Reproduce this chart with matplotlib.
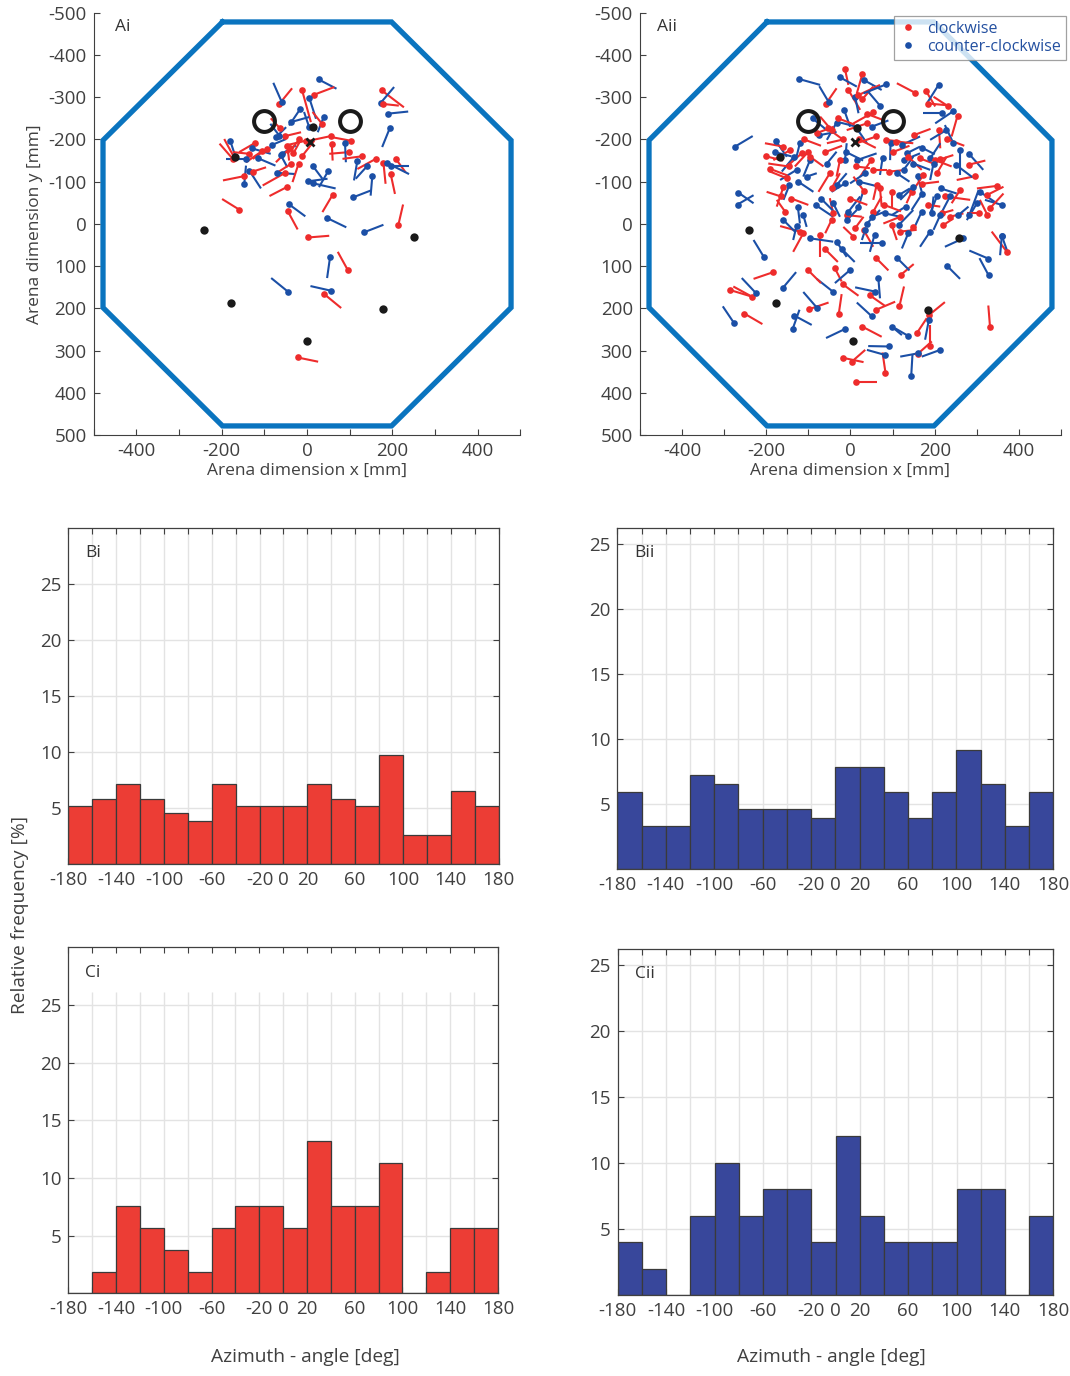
import numpy as np
import matplotlib
matplotlib.use("Agg")
import matplotlib.pyplot as plt
from matplotlib.lines import Line2D
from itertools import zip_longest

plt.rcParams["font.family"] = ["Open Sans", "DejaVu Sans"]
plt.rcParams["axes.unicode_minus"] = False

# -----------------------------
# Arena data (mm): (x_start, y_start, x_end, y_end), dot at start
# -----------------------------
arena_x = [-198, 198, 478, 478, 198, -198, -478, -478, -198]
arena_y = [-478, -478, -198, 198, 478, 478, 198, -198, -478]

rings_x = [-100, 100]
rings_y = [-244, -244]

ai_marks_x = [-242, -179, 0, 177, 251, 13, -169]
ai_marks_y = [14, 187, 276, 202, 32, -229, -158]
ai_cross = (7, -195)

aii_marks_x = [-240, -177, 5, 183, 258, 15, -167]
aii_marks_y = [14, 188, 277, 203, 34, -226, -159]
aii_cross = (11, -195)

ai_cw = [
    (-65, -284, -35, -321), (-12, -318, 9, -241), (17, -306, 64, -324), (175, -316, 227, -276),
    (178, -284, 215, -280), (-64, -227, -85, -250), (35, -237, 13, -265), (56, -208, 5, -197),
    (102, -197, 60, -205), (58, -190, 60, -150), (99, -170, 52, -166), (128, -160, 83, -154),
    (161, -154, 118, -130), (208, -154, 231, -122), (179, -145, 184, -95), (196, -118, 206, -71),
    (60, -69, 36, -28), (-45, -30, -22, 13), (-159, -34, -199, -59), (214, 2, 225, -46),
    (3, 32, 52, 28), (-123, -191, -159, -170), (-94, -178, -127, -154), (-106, -172, -143, -146),
    (-174, -154, -205, -190), (-170, -156, -194, -201), (-135, -166, -174, -170), (-51, -208, -14, -217),
    (-46, -184, -42, -150), (-32, -167, -18, -193), (-12, -160, 17, -197), (-38, -142, -69, -122),
    (-20, -142, -34, -99), (-51, -121, -104, -91), (-127, -124, -96, -134), (-148, -113, -197, -103),
    (-46, -88, -88, -66), (-3, -197, -49, -186), (-18, -200, -46, -166), (-39, -180, -73, -146),
    (96, 110, 72, 66), (39, 165, 80, 199), (-22, 316, 26, 326),
]
ai_ccw = [
    (27, -342, 69, -320), (-59, -288, -79, -334), (5, -299, 21, -249), (173, -287, 204, -324),
    (190, -261, 237, -266), (194, -227, 176, -182), (-16, -272, -42, -233), (39, -253, 25, -217),
    (-38, -241, 5, -253), (5, -229, -7, -265), (89, -191, 91, -146), (118, -150, 110, -103),
    (140, -136, 114, -107), (153, -114, 149, -67), (188, -144, 239, -118), (196, -138, 240, -138),
    (108, -63, 149, -79), (13, -138, 36, -107), (50, -126, 28, -87), (3, -101, 48, -107),
    (15, -96, 67, -84), (-43, -47, -4, -18), (47, -14, 92, 8), (133, 20, 179, 2),
    (-180, -197, -166, -154), (-130, -179, -85, -166), (-143, -154, -190, -154), (-116, -156, -74, -138),
    (-82, -187, -49, -201), (-73, -205, -49, -229), (-61, -162, -46, -134), (-71, -121, -26, -118),
    (-135, -126, -108, -84), (-147, -95, -143, -138), (-65, -209, -86, -237), (-59, -166, -26, -186),
    (54, 78, 47, 128), (-45, 160, -84, 128), (56, 158, 8, 147),
]

aii_cw = [
    (-58, -285, -33, -321), (-13, -366, -5, -329), (28, -354, 15, -309), (-5, -317, 23, -270),
    (28, -295, 54, -325), (19, -305, 70, -329), (152, -311, 110, -333), (179, -315, 201, -278),
    (185, -285, 228, -281), (231, -279, 197, -301), (254, -256, 240, -207), (210, -222, 213, -179),
    (54, -264, 7, -238), (39, -238, -9, -222), (-45, -222, -72, -254), (-54, -226, -17, -199),
    (-17, -200, -56, -191), (61, -207, 15, -191), (84, -199, 118, -195), (108, -195, 149, -191),
    (-159, -183, -203, -191), (-143, -175, -183, -151), (-116, -167, -151, -136), (-100, -171, -132, -136),
    (-147, -136, -195, -143), (-96, -159, -64, -136), (-151, -108, -191, -124), (-159, -88, -175, -41),
    (-49, -120, -76, -76), (-45, -84, -25, -120), (-25, -151, -33, -112), (12, -136, 46, -132),
    (49, -151, 23, -112), (54, -128, 86, -128), (70, -84, 74, -41), (92, -124, 133, -128),
    (137, -159, 169, -128), (165, -155, 197, -143), (201, -151, 240, -136), (213, -153, 244, -163),
    (205, -120, 228, -159), (173, -116, 149, -80), (296, -113, 252, -104), (224, -65, 284, -57),
    (260, -80, 240, -49), (347, -90, 300, -84), (323, -68, 363, -88), (325, -21, 307, -57),
    (331, -37, 363, -72), (304, -25, 276, -25), (185, -45, 213, -41), (216, -25, 244, -33),
    (145, -76, 133, -49), (98, -76, 98, -41), (62, -92, 54, -57), (31, -79, 7, -112),
    (-41, -25, -49, -61), (-9, -21, 27, -17), (54, -29, 74, -65), (118, -17, 78, -1),
    (149, 7, 133, 30), (236, -17, 268, -25), (-165, -65, -199, -76), (-155, -29, -175, -57),
    (-45, -9, -60, 22), (11, 10, 31, -17), (-120, 18, -167, 5), (-72, 26, -72, 78),
    (-112, 22, -136, 66), (7, 30, -17, 7), (31, 14, 54, 54), (98, 3, 110, 38),
    (118, 18, 157, 14), (220, 3, 244, -13), (371, 66, 335, 18), (-183, 114, -230, 130),
    (-287, 156, -234, 172), (-234, 172, -278, 148), (-252, 212, -209, 237), (-99, 202, -52, 186),
    (-28, 214, -21, 166), (-37, 105, -21, 136), (-18, 143, 19, 170), (46, 169, 82, 194),
    (61, 203, 106, 184), (116, 195, 127, 148), (28, 243, 74, 267), (157, 259, 181, 223),
    (187, 215, 224, 185), (189, 290, 189, 239), (-17, 317, 31, 327), (3, 326, 35, 298),
    (83, 352, 76, 304), (159, 308, 193, 278), (13, 373, 62, 373), (331, 243, 327, 193),
    (-80, -215, -40, -230), (-30, -250, 10, -235), (40, -260, 80, -245), (20, -200, 60, -180),
    (-110, -200, -70, -185), (-60, -170, -20, -185), (100, -170, 140, -185), (150, -210, 190, -225),
    (230, -200, 270, -185), (-200, -160, -160, -150), (-190, -130, -150, -115), (-140, -60, -100, -45),
    (0, -60, 40, -45), (80, -45, 120, -30), (170, -95, 210, -100), (280, -140, 320, -150),
    (-60, 60, -30, 90), (60, 80, 90, 110), (120, 120, 150, 95), (-100, 110, -70, 140),
]
aii_ccw = [
    (-122, -343, -72, -329), (-52, -289, -74, -326), (-25, -347, 15, -325), (31, -341, 74, -317),
    (11, -301, 19, -262), (84, -330, 31, -309), (70, -280, 42, -313), (209, -329, 181, -285),
    (216, -262, 171, -262), (244, -267, 201, -238), (244, -191, 224, -234), (227, -222, 189, -199),
    (-15, -270, -1, -230), (15, -230, -33, -242), (-33, -240, -56, -199), (-74, -210, -33, -218),
    (15, -226, 39, -191), (95, -191, 94, -151), (122, -187, 165, -207), (-177, -196, -151, -159),
    (-120, -192, -128, -159), (-134, -159, -163, -124), (-128, -128, -167, -104), (-96, -151, -112, -112),
    (-145, -92, -159, -57), (-104, -112, -80, -120), (-124, -100, -88, -76), (-56, -143, -33, -171),
    (-33, -92, -9, -120), (-13, -151, -9, -191), (15, -151, 62, -167), (76, -155, 70, -116),
    (35, -120, -1, -96), (126, -151, 165, -167), (133, -167, 165, -183), (126, -128, 149, -159),
    (149, -143, 189, -128), (189, -155, 213, -191), (197, -143, 189, -104), (159, -113, 169, -76),
    (260, -175, 260, -116), (282, -165, 315, -128), (214, -84, 252, -72), (236, -65, 213, -21),
    (205, -65, 189, -25), (307, -76, 347, -49), (359, -45, 319, -57), (300, -49, 276, -9),
    (282, -21, 304, -80), (169, -70, 145, -33), (193, -25, 197, -65), (114, -68, 141, -84),
    (149, -88, 118, -57), (131, -41, 98, -21), (19, -41, 31, -80), (-13, -96, -45, -76),
    (-41, -49, -25, -17), (-83, -45, -41, -17), (-5, -29, 23, -65), (50, -17, 82, -29),
    (82, -25, 118, -17), (39, -1, 70, -33), (114, 3, 149, -33), (169, -29, 149, 14),
    (213, -21, 197, 14), (-266, -74, -230, -49), (-268, -46, -230, -68), (-274, -183, -232, -208),
    (-125, -41, -120, -1), (-112, -21, -104, 7), (-9, -9, 15, -33), (35, 14, 27, 38),
    (-128, 5, -136, 38), (-96, 34, -41, 42), (-33, 42, -9, 78), (74, 46, 23, 46),
    (57, 26, 46, 66), (137, 22, 122, 58), (189, 18, 165, 54), (256, -21, 280, -41),
    (359, 29, 355, 74), (268, 34, 224, 54), (-205, 79, -230, 38), (-161, 152, -129, 114),
    (-224, 164, -258, 128), (-276, 235, -303, 195), (-133, 217, -92, 239), (-137, 248, -121, 203),
    (-79, 199, -112, 161), (-42, 160, -80, 130), (-1, 109, -37, 140), (58, 160, 11, 150),
    (66, 127, 70, 176), (50, 218, 15, 186), (-14, 249, -58, 270), (137, 265, 106, 247),
    (92, 290, 42, 289), (186, 227, 177, 274), (82, 310, 39, 298), (144, 361, 147, 310),
    (161, 306, 118, 314), (213, 298, 169, 314), (327, 82, 282, 63), (328, 122, 306, 81),
    (359, 28, 375, 73), (98, 243, 122, 263),
    (-90, -250, -60, -225), (50, -230, 90, -245), (-10, -170, 30, -150), (110, -120, 140, -100),
    (170, -180, 200, -165), (-180, -170, -140, -160), (-70, -60, -40, -30), (20, -100, 60, -90),
    (250, -140, 290, -110), (-20, 60, 10, 90), (110, 80, 140, 110), (230, 100, 260, 130),
    (-160, -10, -130, 20),
]

# -----------------------------
# Histogram data (relative frequency, %) per 20 deg bin
# -----------------------------
bin_edges = np.arange(-180, 181, 20)
bi_pct = [5.19, 5.84, 7.14, 5.84, 4.55, 3.90, 7.14, 5.19, 5.19, 5.19, 7.14, 5.84, 5.19, 9.74, 2.60, 2.60, 6.49, 5.19]
bii_pct = [5.88, 3.27, 3.27, 7.19, 6.54, 4.58, 4.58, 4.58, 3.92, 7.84, 7.84, 5.88, 3.92, 5.88, 9.15, 6.54, 3.27, 5.88]
ci_pct = [0, 1.89, 7.55, 5.66, 3.77, 1.89, 5.66, 7.55, 7.55, 5.66, 13.21, 7.55, 7.55, 11.32, 0, 1.89, 5.66, 5.66]
cii_pct = [4, 2, 0, 6, 10, 6, 8, 8, 4, 12, 6, 4, 4, 4, 8, 8, 0, 6]

az_labels = [-180, -140, -100, -60, -20, 0, 20, 60, 100, 140, 180]

# -----------------------------
# Colors
# -----------------------------
RED = "#ee2c2c"
BLUE = "#1b4fa6"
ARENA = "#0a74bf"
BAR_RED = "#ec3d35"
BAR_BLUE = "#38479b"
INK = "#404040"
GRID = "#e3e3e3"

TICK_FS = 13.5
LABEL_FS = 12.5

fig = plt.figure(figsize=(10.70, 13.76), dpi=100)


def arena_panel(rect, cw, ccw, marks_x, marks_y, cross, tag, tag_x):
    ax = fig.add_axes(rect)
    ax.plot(arena_x, arena_y, color=ARENA, lw=3.8, solid_joinstyle="miter", zorder=1)
    for seg_r, seg_b in zip_longest(cw, ccw):
        for seg, col in ((seg_r, RED), (seg_b, BLUE)):
            if seg is None:
                continue
            x0, y0, x1, y1 = seg
            ax.plot([x0, x1], [y0, y1], color=col, lw=1.5, solid_capstyle="butt", zorder=2)
            ax.plot(x0, y0, "o", color=col, ms=4.8, mew=0, zorder=3)
    ax.plot(marks_x, marks_y, "o", color="#1a1a1a", ms=6, mew=0, zorder=4)
    ax.plot(*cross, "x", color="#1a1a1a", ms=6, mew=2.0, zorder=4)
    ax.plot(rings_x, rings_y, "o", mfc="none", mec="#1a1a1a", ms=15, mew=2.9, zorder=4)

    ax.set_xlim(-500, 500)
    ax.set_ylim(500, -500)
    ax.set_xticks(np.arange(-500, 501, 100))
    ax.set_xticklabels(["" if v % 200 else str(v) for v in range(-500, 501, 100)])
    ax.set_yticks(np.arange(-500, 501, 100))
    for side in ("top", "right"):
        ax.spines[side].set_visible(False)
    for side in ("left", "bottom"):
        ax.spines[side].set_color(INK)
        ax.spines[side].set_linewidth(0.8)
    ax.tick_params(direction="in", length=4, width=0.8, colors=INK, labelsize=TICK_FS, pad=5)
    ax.set_xlabel("Arena dimension x [mm]", fontsize=LABEL_FS, color=INK, labelpad=2)
    ax.text(tag_x, 0.985, tag, transform=ax.transAxes, fontsize=LABEL_FS, color="#333333", va="top")
    return ax


def hist_panel(rect, pct, color, ytop, tag, grid_top=None):
    ax = fig.add_axes(rect)
    ax.bar(bin_edges[:-1], pct, width=20, align="edge", color=color,
           edgecolor="#3a3a3a", linewidth=0.9, zorder=2)
    gtop = ytop if grid_top is None else grid_top
    ax.vlines(bin_edges[1:-1], 0, gtop, color=GRID, lw=1.0, zorder=0.5)
    ax.hlines([5, 10, 15, 20, 25], -180, 180, color=GRID, lw=1.0, zorder=0.5)
    ax.set_xlim(-180, 180)
    ax.set_ylim(0, ytop)
    ax.set_xticks(bin_edges)
    ax.set_xticklabels([str(v) if v in az_labels else "" for v in bin_edges])
    ax.set_yticks([5, 10, 15, 20, 25])
    for sp in ax.spines.values():
        sp.set_color(INK)
        sp.set_linewidth(0.9)
    ax.tick_params(direction="in", length=4, width=0.8, colors=INK, labelsize=TICK_FS,
                   top=True, right=True, pad=5)
    ax.text(0.04, 0.95, tag, transform=ax.transAxes, fontsize=LABEL_FS, color="#333333", va="top")
    return ax


ax_ai = arena_panel([0.0875, 0.6837, 0.3989, 0.3071], ai_cw, ai_ccw,
                    ai_marks_x, ai_marks_y, ai_cross, "Ai", 0.05)
ax_ai.set_ylabel("Arena dimension y [mm]", fontsize=LABEL_FS, color=INK, labelpad=4)
ax_aii = arena_panel([0.5979, 0.6837, 0.3939, 0.3071], aii_cw, aii_ccw,
                     aii_marks_x, aii_marks_y, aii_cross, "Aii", 0.04)

handles = [Line2D([], [], ls="none", marker="o", color=RED, ms=4.8, mew=0),
           Line2D([], [], ls="none", marker="o", color=BLUE, ms=4.8, mew=0)]
leg = ax_aii.legend(handles, ["clockwise", "counter-clockwise"], loc="upper right",
                    bbox_to_anchor=(1.012, 0.992), fontsize=11.5, frameon=True, fancybox=False,
                    handlelength=1.2, handletextpad=0.6, borderpad=0.3, labelspacing=0.12,
                    borderaxespad=0)
leg.get_frame().set_edgecolor("#8a8a8a")
leg.get_frame().set_linewidth(0.9)
for t in leg.get_texts():
    t.set_color("#2450a0")

hist_panel([0.0638, 0.3719, 0.4022, 0.2446], bi_pct, BAR_RED, 30, "Bi")
hist_panel([0.5769, 0.3685, 0.4075, 0.2476], bii_pct, BAR_BLUE, 26.2, "Bii")
hist_panel([0.0638, 0.0601, 0.4016, 0.2515], ci_pct, BAR_RED, 30, "Ci", grid_top=26.1)
hist_panel([0.5773, 0.0589, 0.4071, 0.2515], cii_pct, BAR_BLUE, 26.2, "Cii")

fig.text(20 / 1070, 1 - 915 / 1376, "Relative frequency [%]", rotation=90, fontsize=13.8,
         color=INK, ha="center", va="center")
fig.text(305 / 1070, 1 - 1357 / 1376, "Azimuth - angle [deg]", fontsize=13.8, color=INK,
         ha="center", va="center")
fig.text(831 / 1070, 1 - 1357 / 1376, "Azimuth - angle [deg]", fontsize=13.8, color=INK,
         ha="center", va="center")

fig.savefig("out.png", dpi=100, facecolor="white")
